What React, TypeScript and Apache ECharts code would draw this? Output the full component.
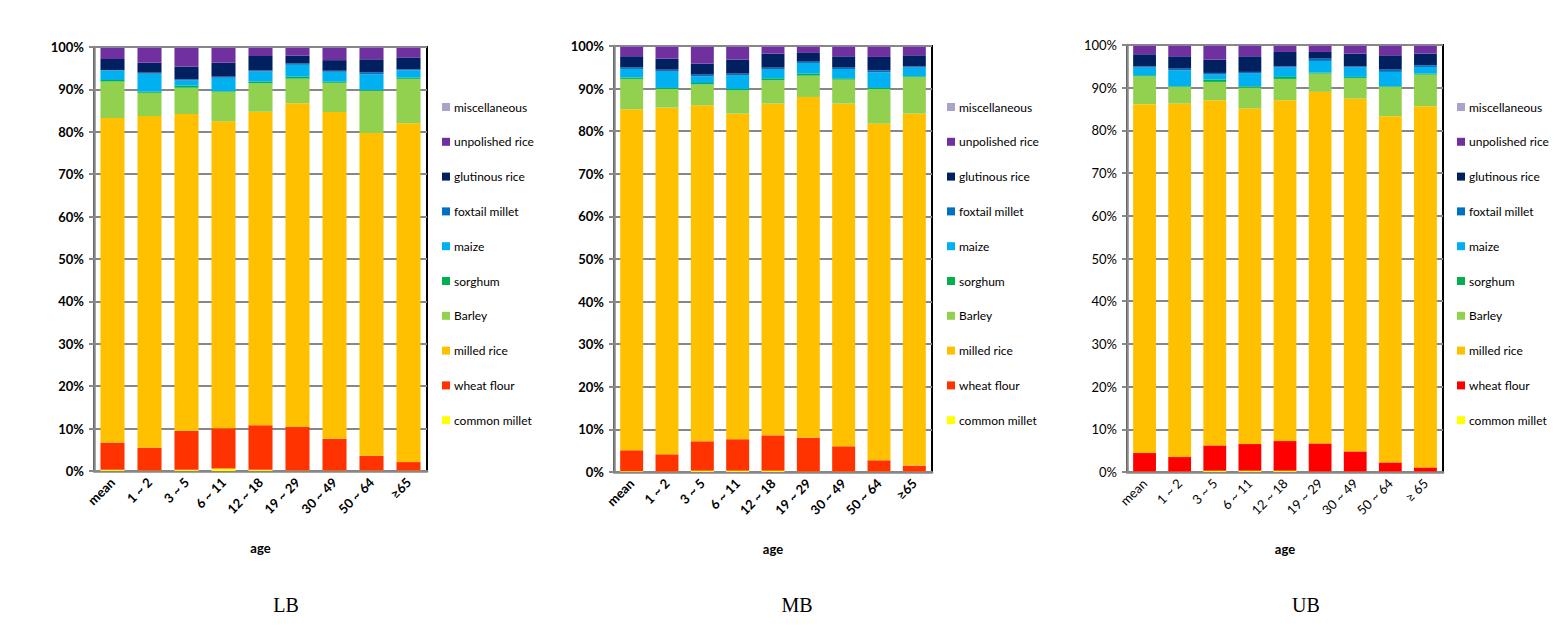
import React, { useEffect, useRef } from "react";
import * as echarts from "echarts";

const ageGroups = ["mean", "1 ~ 2", "3 ~ 5", "6 ~ 11", "12 ~ 18", "19 ~ 29", "30 ~ 49", "50 ~ 64", "≥65"];
const ageGroupsUB = ["mean", "1 ~ 2", "3 ~ 5", "6 ~ 11", "12 ~ 18", "19 ~ 29", "30 ~ 49", "50 ~ 64", "≥ 65"];
const panelNames = ["LB", "MB", "UB"];
const yTicks = [0, 10, 20, 30, 40, 50, 60, 70, 80, 90, 100];

// bottom-to-top stacking order
const foodNames = [
  "common millet",
  "wheat flour",
  "milled rice",
  "Barley",
  "sorghum",
  "maize",
  "foxtail millet",
  "glutinous rice",
  "unpolished rice",
  "miscellaneous",
];

// LB values (%)
const lbCommonMillet = [0.3, 0.1, 0.3, 0.6, 0.3, 0.1, 0.1, 0.1, 0.1];
const lbWheatFlour = [6.4, 5.4, 9.2, 9.5, 10.5, 10.3, 7.5, 3.5, 2.0];
const lbMilledRice = [76.5, 78.2, 74.7, 72.4, 73.9, 76.3, 77.1, 76.1, 79.9];
const lbBarley = [8.6, 5.5, 6.2, 7.0, 6.7, 5.8, 6.9, 10.0, 10.5];
const lbSorghum = [0.4, 0.25, 0.5, 0.15, 0.4, 0.45, 0.25, 0.15, 0.25];
const lbMaize = [2.2, 4.25, 1.2, 3.15, 2.35, 2.8, 2.35, 3.7, 1.75];
const lbFoxtail = [0.15, 0.25, 0.3, 0.25, 0.25, 0.3, 0.25, 0.5, 0.25];
const lbGlutinous = [2.6, 2.35, 3.0, 3.3, 3.45, 1.9, 2.5, 3.05, 2.8];
const lbUnpolished = [2.7, 3.6, 4.5, 3.6, 2.0, 1.9, 3.0, 2.8, 2.35];
const lbMisc = [0.1, 0.1, 0.1, 0.1, 0.1, 0.1, 0.1, 0.1, 0.1];

// MB values (%)
const mbCommonMillet = [0.2, 0.1, 0.3, 0.3, 0.3, 0.1, 0.1, 0.1, 0.1];
const mbWheatFlour = [4.9, 4.05, 6.9, 7.4, 8.3, 7.97, 5.93, 2.65, 1.4];
const mbMilledRice = [80.04, 81.38, 78.88, 76.42, 77.87, 79.97, 80.44, 79.03, 82.62];
const mbBarley = [7.12, 4.39, 4.93, 5.48, 5.48, 5.01, 5.64, 8.14, 8.61];
const mbSorghum = [0.32, 0.23, 0.31, 0.32, 0.47, 0.47, 0.31, 0.23, 0.16];
const mbMaize = [2.02, 3.83, 1.57, 3.13, 2.03, 2.5, 2.18, 3.68, 2.03];
const mbFoxtail = [0.32, 0.47, 0.39, 0.47, 0.47, 0.31, 0.32, 0.47, 0.32];
const mbGlutinous = [2.66, 2.59, 2.58, 3.28, 3.29, 2.04, 2.66, 3.13, 2.58];
const mbUnpolished = [2.3, 2.86, 4.04, 3.1, 1.69, 1.53, 2.32, 2.47, 2.08];
const mbMisc = [0.1, 0.1, 0.1, 0.1, 0.1, 0.1, 0.1, 0.1, 0.1];

// UB values (%)
const ubCommonMillet = [0.1, 0.1, 0.3, 0.3, 0.3, 0.1, 0.1, 0.1, 0.1];
const ubWheatFlour = [4.34, 3.4, 5.93, 6.24, 6.94, 6.6, 4.73, 2.15, 0.98];
const ubMilledRice = [81.7, 82.79, 80.84, 78.58, 79.83, 82.32, 82.63, 81.08, 84.59];
const ubBarley = [6.54, 3.9, 4.29, 4.91, 4.99, 4.29, 4.83, 6.86, 7.4];
const ubSorghum = [0.24, 0.15, 0.54, 0.31, 0.47, 0.23, 0.24, 0.15, 0.24];
const ubMaize = [1.78, 3.75, 1.17, 2.97, 2.18, 2.73, 2.18, 3.36, 1.55];
const ubFoxtail = [0.32, 0.38, 0.39, 0.39, 0.31, 0.54, 0.31, 0.54, 0.39];
const ubGlutinous = [2.81, 2.89, 3.12, 3.66, 3.35, 1.56, 2.96, 3.35, 2.73];
const ubUnpolished = [2.07, 2.54, 3.32, 2.54, 1.53, 1.53, 1.92, 2.31, 1.92];
const ubMisc = [0.1, 0.1, 0.1, 0.1, 0.1, 0.1, 0.1, 0.1, 0.1];

const lbSeries = [lbCommonMillet, lbWheatFlour, lbMilledRice, lbBarley, lbSorghum, lbMaize, lbFoxtail, lbGlutinous, lbUnpolished, lbMisc];
const mbSeries = [mbCommonMillet, mbWheatFlour, mbMilledRice, mbBarley, mbSorghum, mbMaize, mbFoxtail, mbGlutinous, mbUnpolished, mbMisc];
const ubSeries = [ubCommonMillet, ubWheatFlour, ubMilledRice, ubBarley, ubSorghum, ubMaize, ubFoxtail, ubGlutinous, ubUnpolished, ubMisc];

const colorsLM = ["#FFFF00", "#FF3300", "#FFC000", "#92D050", "#00B050", "#00B0F0", "#0070C0", "#002060", "#7030A0", "#A9A3C9"];
const colorsU = ["#FFFF00", "#FF0000", "#FFC000", "#92D050", "#00B050", "#00B0F0", "#0070C0", "#002060", "#7030A0", "#A9A3C9"];

const normalize = (groups: number[][]) => {
  const n = groups[0].length;
  const sums = Array.from({ length: n }, (_, i) => groups.reduce((s, g) => s + g[i], 0));
  return groups.map((g) => g.map((v, i) => (v / sums[i]) * 100));
};

const FONT = "Lato, 'Open Sans', sans-serif";

const panels = [
  { data: lbSeries, colors: colorsLM, cats: ageGroups, left: 94, right: 427, top: 47, bottom: 471, bold: true, legendX: 437, titleX: 286 },
  { data: mbSeries, colors: colorsLM, cats: ageGroups, left: 614, right: 932, top: 46, bottom: 472, bold: true, legendX: 942, titleX: 797 },
  { data: ubSeries, colors: colorsU, cats: ageGroupsUB, left: 1127, right: 1443, top: 45, bottom: 472, bold: false, legendX: 1452, titleX: 1306 },
];

export default function App() {
  const ref = useRef<HTMLDivElement>(null);
  useEffect(() => {
    if (!ref.current) return;
    const chart = echarts.init(ref.current, null, { renderer: "svg" });
    const grids: any[] = [];
    const xAxes: any[] = [];
    const yAxes: any[] = [];
    const series: any[] = [];
    const legends: any[] = [];
    const graphics: any[] = [];
    panels.forEach((p, pi) => {
      grids.push({
        left: p.left,
        top: p.top,
        width: p.right - p.left,
        height: p.bottom - p.top,
        show: true,
        borderColor: "#000",
        borderWidth: 2,
        backgroundColor: "transparent",
      });
      xAxes.push({
        type: "category",
        gridIndex: pi,
        data: p.cats,
        axisLine: { show: true, lineStyle: { color: "#878787", width: 2.5 } },
        axisTick: { show: false },
        axisLabel: {
          interval: 0,
          rotate: 45,
          color: "#000",
          fontFamily: FONT,
          fontSize: 13,
          fontWeight: p.bold ? "bold" : "normal",
          margin: 9,
        },
        name: "age",
        nameLocation: "middle",
        nameGap: 70,
        nameTextStyle: { color: "#000", fontFamily: FONT, fontSize: 13, fontWeight: "bold" },
      });
      yAxes.push({
        type: "value",
        gridIndex: pi,
        min: yTicks[0],
        max: yTicks[yTicks.length - 1],
        interval: 10,
        axisLine: { show: true, lineStyle: { color: "#878787", width: 2.5 } },
        axisTick: { show: true, length: 5, lineStyle: { color: "#878787", width: 2 } },
        splitLine: { show: true, lineStyle: { color: "#878787", width: 2 } },
        axisLabel: {
          formatter: "{value}%",
          color: "#000",
          fontFamily: FONT,
          fontSize: 13,
          fontWeight: p.bold ? "bold" : "normal",
          margin: 10,
        },
      });
      const norm = normalize(p.data);
      norm.forEach((vals, si) => {
        series.push({
          type: "bar",
          name: foodNames[si],
          xAxisIndex: pi,
          yAxisIndex: pi,
          stack: "panel" + pi,
          barCategoryGap: "35%",
          data: vals,
          itemStyle: { color: p.colors[si] },
          emphasis: { disabled: true },
        });
      });
      legends.push({
        orient: "vertical",
        left: p.legendX,
        top: 96,
        itemWidth: 8,
        itemHeight: 8,
        itemGap: 22.8,
        selectedMode: false,
        icon: "rect",
        textStyle: { color: "#000", fontFamily: FONT, fontSize: 12, lineHeight: 12, padding: [0, 0, 0, -1] },
        data: foodNames
          .map((n, si) => ({ name: n, icon: "rect", itemStyle: { color: p.colors[si] } }))
          .reverse(),
      });
      graphics.push({
        type: "text",
        x: p.titleX,
        y: 605,
        style: {
          text: panelNames[pi],
          fill: "#000",
          font: "20px 'Liberation Serif', 'DejaVu Serif', serif",
          textAlign: "center",
          textVerticalAlign: "middle",
          align: "center",
          verticalAlign: "middle",
        },
      });
    });
    chart.setOption({
      animation: false,
      backgroundColor: "#fff",
      grid: grids,
      xAxis: xAxes,
      yAxis: yAxes,
      series,
      legend: legends,
      graphic: graphics,
    });
    return () => chart.dispose();
  }, []);
  return <div ref={ref} style={{ position: "absolute", left: 0, top: 0, width: 1554, height: 637 }} />;
}
